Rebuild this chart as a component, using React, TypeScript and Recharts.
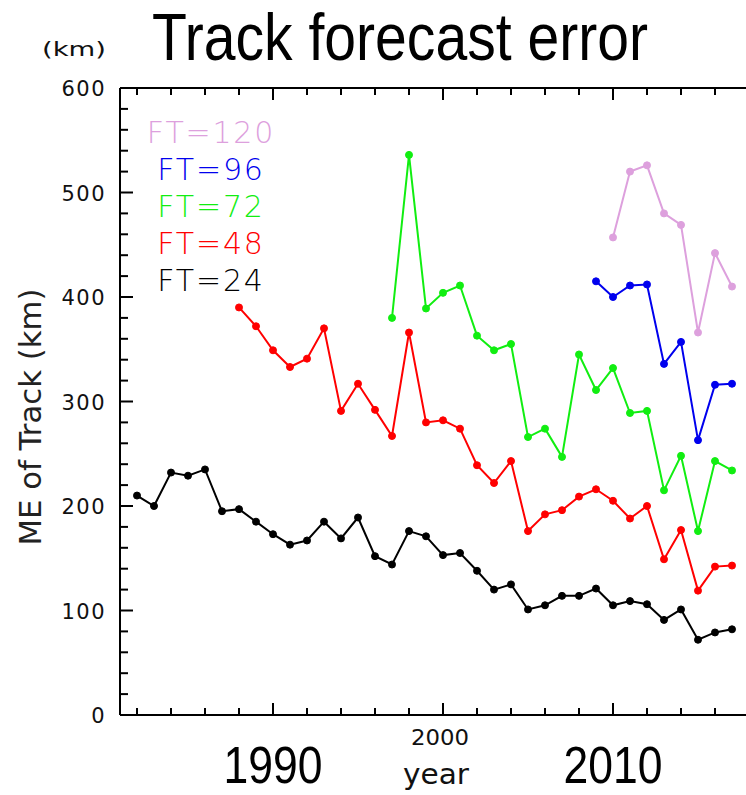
import React from "react";
import {Label, Legend, Line, LineChart, XAxis, YAxis} from "recharts";

const years = [
    1982, 1983, 1984, 1985, 1986, 1987, 1988, 1989, 1990, 1991, 1992, 1993,
    1994, 1995, 1996, 1997, 1998, 1999, 2000, 2001, 2002, 2003, 2004, 2005,
    2006, 2007, 2008, 2009, 2010, 2011, 2012, 2013, 2014, 2015, 2016, 2017,
];

// mean track error (km), each list starts at its own first year
const ft24 = [210, 200, 232, 229, 235, 195, 197, 185, 173, 163, 167, 185, 169, 189, 152, 144, 176, 171,
    153, 155, 138, 120, 125, 101, 105, 114, 114, 121, 105, 109, 106, 91, 101, 72, 79, 82];
const ft48 = [390, 372, 349, 333, 341, 370, 291, 317, 292, 267, 366, 280, 282, 274, 239, 222, 243, 176,
    192, 196, 209, 216, 205, 188, 200, 149, 177, 119, 142, 143];
const ft72 = [380, 536, 389, 404, 411, 363, 349, 355, 266, 274, 247, 345, 311, 332, 289, 291, 215, 248,
    176, 243, 234];
const ft96 = [415, 400, 411, 412, 336, 357, 263, 316, 317];
const ft120 = [457, 520, 526, 480, 469, 366, 442, 410];

const seriesNames = ["FT=120", "FT=96", "FT=72", "FT=48", "FT=24"];

const xTicks = [1982, 1984, 1986, 1988, 1990, 1992, 1994, 1996, 1998, 2000, 2002, 2004, 2006, 2008,
    2010, 2012, 2014, 2016];
const bigYearLabels = [1990, 2010];
const smallYearLabels = [2000];
const yTicks = [0, 20, 40, 60, 80, 100, 120, 140, 160, 180, 200, 220, 240, 260, 280, 300, 320, 340,
    360, 380, 400, 420, 440, 460, 480, 500, 520, 540, 560, 580, 600];

const series = [
    {key: "ft24", name: seriesNames[4], color: "#000000", start: 1982, values: ft24},
    {key: "ft48", name: seriesNames[3], color: "#ff0000", start: 1988, values: ft48},
    {key: "ft72", name: seriesNames[2], color: "#11ee11", start: 1997, values: ft72},
    {key: "ft96", name: seriesNames[1], color: "#0000ee", start: 2009, values: ft96},
    {key: "ft120", name: seriesNames[0], color: "#dda0dd", start: 2010, values: ft120},
];

const data = years.map(year => {
    const row: Record<string, number | null> = {year};
    series.forEach(s => {
        const i = year - s.start;
        row[s.key] = i >= 0 && i < s.values.length ? s.values[i] : null;
    });
    return row;
});

const FONT = "'DejaVu Sans', sans-serif";
const BIG_FONT = "'Liberation Sans Narrow', 'Liberation Sans', sans-serif";

// plot box edges (px)
const PLOT_LEFT = 120;
const PLOT_TOP = 88;
const PLOT_BOTTOM = 715;
const PLOT_RIGHT = 749;

const BottomTick = (props: any) => {
    const {x, payload} = props;
    const y = PLOT_BOTTOM;
    const v = payload.value;
    const major = v % 10 === 0;
    return <g>
        <line x1={x} x2={x} y1={y} y2={y - (major ? 12 : 7)} stroke="#000" strokeWidth={2}/>
        {bigYearLabels.includes(v) &&
            <text x={x} y={y + 68} textAnchor="middle" fontFamily={BIG_FONT} fontSize={52} fill="#000"
                  textLength={99} lengthAdjust="spacingAndGlyphs">{v}</text>}
        {smallYearLabels.includes(v) &&
            <text x={x - 3} y={y + 30} textAnchor="middle" fontFamily={FONT} fontSize={21} fill="#111"
                  textLength={58} lengthAdjust="spacingAndGlyphs">{v}</text>}
    </g>
}

const TopTick = (props: any) => {
    const {x, payload} = props;
    const y = PLOT_TOP;
    const major = payload.value % 10 === 0;
    return <line x1={x} x2={x} y1={y} y2={y + (major ? 12 : 7)} stroke="#000" strokeWidth={2}/>
}

const LeftTick = (props: any) => {
    const {y, payload} = props;
    const x = PLOT_LEFT;
    const major = payload.value % 100 === 0;
    return <g>
        <line x1={x} x2={x + (major ? 13 : 8)} y1={y} y2={y} stroke="#000" strokeWidth={2}/>
        {major && <text x={x - 14} y={y + 8} textAnchor="end" fontFamily={FONT} fontSize={21}
                        fill="#111" letterSpacing={1.5}>{payload.value}</text>}
    </g>
}

const RightTick = (props: any) => {
    const {y, payload} = props;
    const x = PLOT_RIGHT;
    const major = payload.value % 100 === 0;
    return <line x1={x} x2={x - (major ? 13 : 7)} y1={y} y2={y} stroke="#000" strokeWidth={2}/>
}

const LegendBox = () => <div style={{fontFamily: FONT, fontSize: 30, fontWeight: 200, lineHeight: "37px",
    letterSpacing: 1.8, textAlign: "center"}}>
    {[...series].reverse().map(s => <div key={s.key} style={{color: s.color}}>{s.name}</div>)}
</div>

const App = () => {
    return <div style={{position: "absolute", left: 0, top: 0, background: "#fff"}}>
        <LineChart width={746} height={795} data={data}
                   margin={{top: PLOT_TOP - 30, right: 746 - PLOT_RIGHT - 10, bottom: 795 - PLOT_BOTTOM - 30,
                       left: PLOT_LEFT - 60}}>
            <XAxis xAxisId={0} dataKey="year" type="number" domain={[1981, 2018]} ticks={xTicks}
                   interval={0} height={30} tickSize={0} tickMargin={0} tickLine={false}
                   axisLine={{stroke: "#000", strokeWidth: 2}} tick={(p: any) => <BottomTick {...p}/>}>
                <Label content={() => <text x={436} y={784} textAnchor="middle" fontFamily={FONT}
                                            fontSize={29} fill="#111" textLength={66}
                                            lengthAdjust="spacingAndGlyphs">year</text>}/>
            </XAxis>
            <XAxis xAxisId="top" orientation="top" dataKey="year" type="number" domain={[1981, 2018]}
                   ticks={xTicks} interval={0} height={30} tickSize={0} tickMargin={0} tickLine={false}
                   axisLine={{stroke: "#000", strokeWidth: 2}} tick={(p: any) => <TopTick {...p}/>}>
                <Label content={() => <g>
                    <text x={152} y={60} fontFamily={BIG_FONT} fontSize={66} fill="#000" textLength={496}
                          lengthAdjust="spacingAndGlyphs">Track forecast error</text>
                    <text x={74} y={56} textAnchor="middle" fontFamily={FONT} fontSize={20} fill="#111"
                          textLength={64} lengthAdjust="spacingAndGlyphs">(km)</text>
                </g>}/>
            </XAxis>
            <YAxis yAxisId={0} domain={[0, 600]} ticks={yTicks} interval={0} width={60} tickSize={0}
                   tickMargin={0} tickLine={false} axisLine={{stroke: "#000", strokeWidth: 2}}
                   tick={(p: any) => <LeftTick {...p}/>}>
                <Label content={() => <text x={41} y={417} transform="rotate(-90, 41, 417)"
                                            textAnchor="middle" fontFamily={FONT} fontSize={31}
                                            fill="#222" textLength={257}
                                            lengthAdjust="spacingAndGlyphs">ME of Track (km)</text>}/>
            </YAxis>
            <YAxis yAxisId="right" orientation="right" domain={[0, 600]} ticks={yTicks} interval={0}
                   width={10} tickSize={0} tickMargin={0} tickLine={false}
                   axisLine={{stroke: "#000", strokeWidth: 2}} tick={(p: any) => <RightTick {...p}/>}/>
            <Legend layout="horizontal" align="center" verticalAlign="middle" content={() => <LegendBox/>}
                    wrapperStyle={{position: "absolute", left: 141, top: 114, width: 140}}/>
            {series.map(s => <Line key={s.key} xAxisId={0} yAxisId={0} dataKey={s.key} name={s.name}
                                   stroke={s.color} strokeWidth={2} isAnimationActive={false}
                                   dot={{r: 3.5, fill: s.color, stroke: s.color, strokeWidth: 1}}
                                   activeDot={false}/>)}
        </LineChart>
    </div>
}

export default App
